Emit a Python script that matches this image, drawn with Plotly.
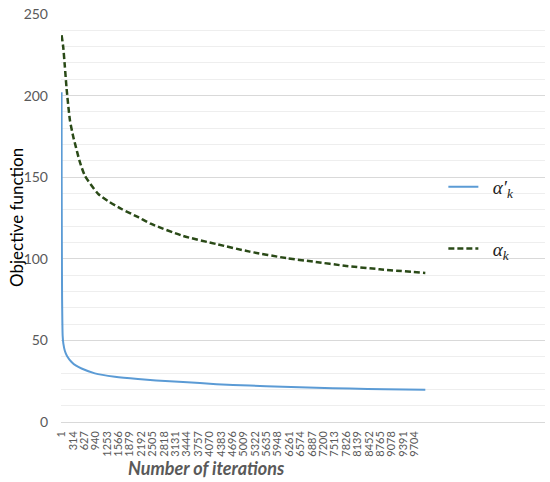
import plotly.graph_objects as go

# iteration ticks shown on the category axis
tick_iters = [1, 314, 627, 940, 1253, 1566, 1879, 2192, 2505, 2818, 3131, 3444,
              3757, 4070, 4383, 4696, 5009, 5322, 5635, 5948, 6261, 6574, 6887,
              7200, 7513, 7826, 8139, 8452, 8765, 9078, 9391, 9704]

# alpha'_k (solid blue)
iter_a1 = [1, 3, 8, 15, 30, 50, 92, 150, 275, 400, 550, 915, 1465, 2100, 2600,
           3340, 4260, 5170, 6080, 7000, 7920, 8900, 10000]
val_a1 = [202, 150, 110, 75, 53, 48, 43.5, 40.5, 36.8, 34.5, 32.8, 29.8, 27.7,
          26.3, 25.5, 24.5, 23.2, 22.3, 21.6, 21.0, 20.5, 20.1, 19.8]

# alpha_k (dashed dark green)
iter_a2 = [1, 45, 90, 140, 230, 320, 400, 494, 640, 1000, 1270, 1650, 2110,
           2450, 3340, 4260, 5170, 6180, 6910, 7830, 8740, 10000]
val_a2 = [237, 230, 218, 204, 185, 175, 168, 160, 151, 140, 135.5, 130.5,
          125.5, 121.5, 114, 109, 104.4, 100.4, 98.3, 95.6, 93.6, 91.3]

fig = go.Figure()

fig.add_trace(go.Scatter(
    x=iter_a1, y=val_a1, mode="lines",
    name="&nbsp;&nbsp;<i>α′<sub>k</sub></i>", legendgroup="a1",
    line=dict(color="#5B9BD5", width=2, shape="spline", smoothing=0.5)
))
fig.add_trace(go.Scatter(
    x=iter_a2, y=val_a2, mode="lines",
    name="&nbsp;&nbsp;<i>α<sub>k</sub></i>", legendgroup="a2",
    line=dict(color="#2A4A17", width=2.5, dash="6px,3px",
              shape="spline", smoothing=0.6)
))

fig.update_layout(
    width=550, height=482,
    margin=dict(l=61, r=5, t=11, b=60),
    plot_bgcolor="white", paper_bgcolor="white",
    font=dict(family="Lato", color="#595959"),
    showlegend=True,
    legend=dict(
        x=0.79, y=0.5, xanchor="left", yanchor="middle",
        bgcolor="rgba(0,0,0,0)",
        font=dict(family="Liberation Serif", size=19, color="#222222"),
        tracegroupgap=34, itemwidth=30, traceorder="grouped"
    ),
    xaxis=dict(
        range=[-15, 13290],
        showgrid=False, zeroline=False, showline=False,
        tickmode="array", tickvals=tick_iters,
        ticktext=[str(t) for t in tick_iters],
        tickangle=-90, tickfont=dict(size=11, color="#595959"),
        ticks="", ticklabelstandoff=6
    ),
    yaxis=dict(
        range=[0, 250], dtick=50,
        showgrid=True, gridcolor="#d9d9d9", gridwidth=1,
        minor=dict(dtick=10, showgrid=True, gridcolor="#eeeeee", gridwidth=1),
        zeroline=True, zerolinecolor="#d9d9d9", zerolinewidth=1,
        showline=False, ticks="",
        tickfont=dict(size=14, color="#595959"),
        ticklabelstandoff=12
    ),
    annotations=[
        dict(text="<b><i>Number of iterations</i></b>", xref="paper", yref="paper",
             x=0.3, y=0, xanchor="center", yanchor="middle", yshift=-46,
             showarrow=False, font=dict(size=18, color="#595959")),
        dict(text="Objective function", xref="paper", yref="paper",
             x=0, y=0.5, xanchor="center", yanchor="middle", xshift=-45,
             textangle=-90, showarrow=False,
             font=dict(size=17, color="#000000")),
    ],
)

fig.write_html("out.html", config={"displayModeBar": False})

# drop the default page margin so the 550x482 figure fills the window exactly
with open("out.html", encoding="utf-8") as f:
    html = f.read()
html = html.replace("<body>", '<body style="margin:0">', 1)
with open("out.html", "w", encoding="utf-8") as f:
    f.write(html)
